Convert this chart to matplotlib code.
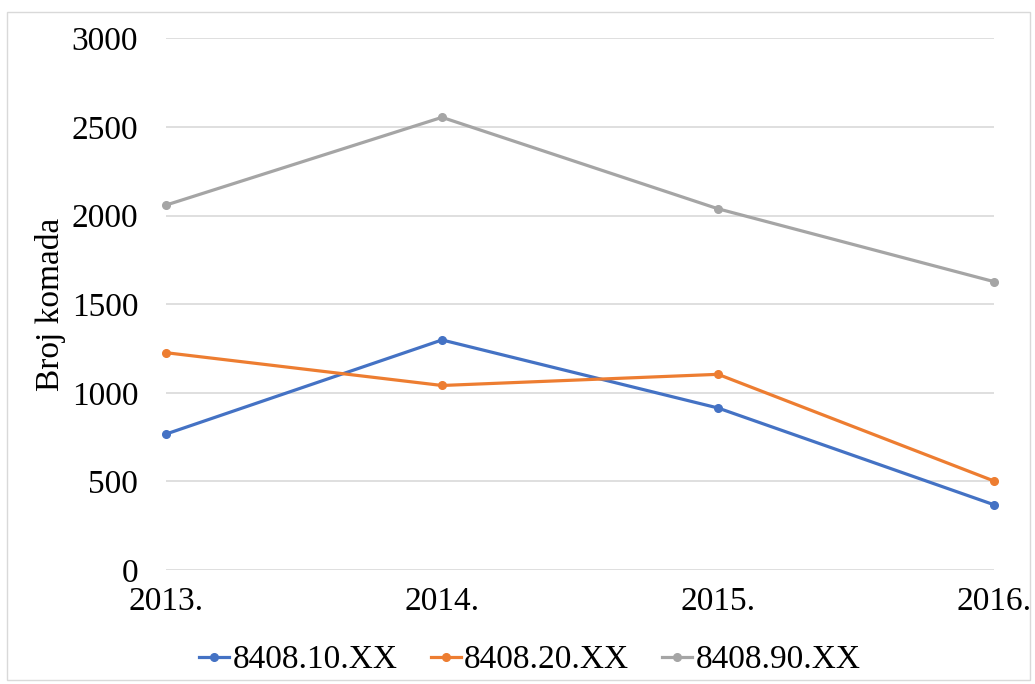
import matplotlib
matplotlib.use("Agg")
import matplotlib.pyplot as plt
from matplotlib.patches import Rectangle

years = [2013, 2014, 2015, 2016]
year_labels = ["2013.", "2014.", "2015.", "2016."]
series_names = ["8408.10.XX", "8408.20.XX", "8408.90.XX"]
vals_10 = [767, 1298, 914, 368]
vals_20 = [1226, 1041, 1104, 502]
vals_90 = [2059, 2554, 2038, 1627]
colors = ["#4472C4", "#ED7D31", "#A5A5A5"]

plt.rcParams["font.family"] = ["Liberation Serif", "DejaVu Serif"]

fig = plt.figure(figsize=(10.35, 6.84), dpi=100)
ax = fig.add_axes([0.1604, 0.1667, 0.80, 0.7773])

for vals, name, c in zip([vals_10, vals_20, vals_90], series_names, colors):
    ax.plot(years, vals, color=c, linewidth=2.3, marker="o", markersize=5.5,
            label=name, clip_on=False, zorder=3)

ax.set_xlim(2013, 2016)
ax.set_ylim(0, 3000)
ax.set_yticks(range(0, 3001, 500))
ax.set_xticks(years)
ax.set_xticklabels(year_labels)
ax.tick_params(axis="both", length=0, labelsize=24)
ax.tick_params(axis="y", pad=20)
ax.tick_params(axis="x", pad=12)
ax.grid(axis="y", color="#D9D9D9", linewidth=1.2)
ax.set_axisbelow(True)
for s in ax.spines.values():
    s.set_visible(False)
ax.set_ylabel("Broj komada", fontsize=24, labelpad=4)

fig.legend(loc="center", bbox_to_anchor=(0.512, 0.035), ncol=3, frameon=False,
           fontsize=24, handlelength=0.9, handletextpad=0.1, columnspacing=1.0)

# outer chart border
fig.patches.append(Rectangle((0.007, 0.006), 0.988, 0.977, transform=fig.transFigure,
                             fill=False, edgecolor="#D9D9D9", linewidth=1))

fig.savefig("out.png", dpi=100)
